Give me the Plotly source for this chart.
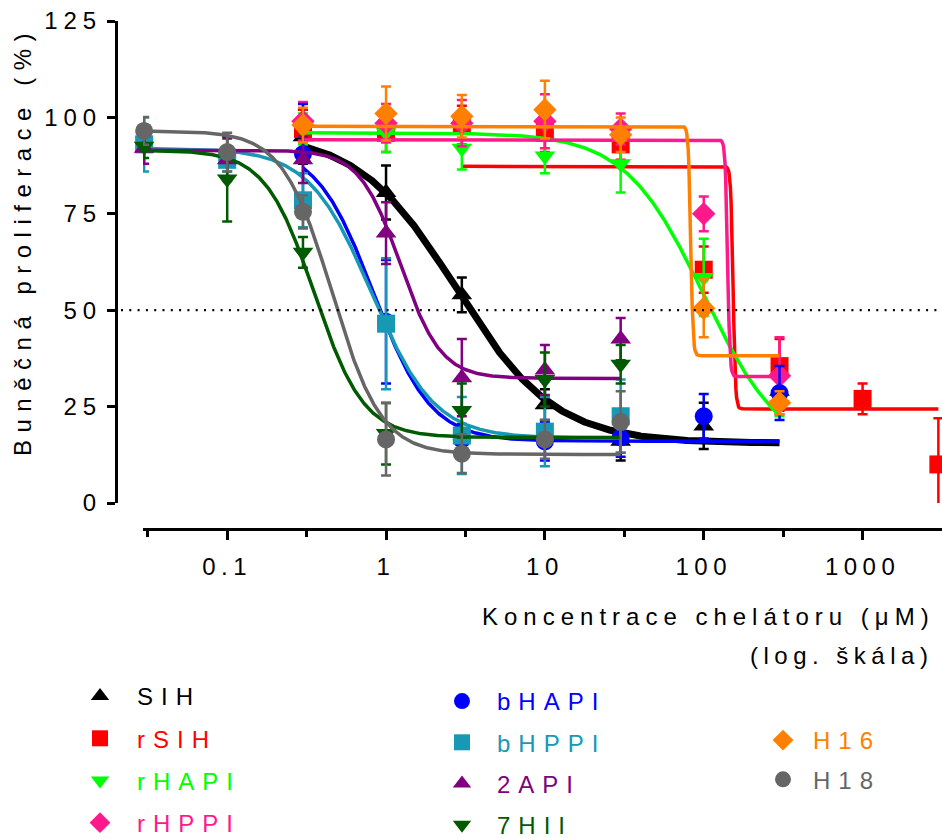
import numpy as np
import plotly.graph_objects as go

# ---------------- data ----------------
conc = [0.03, 0.1, 0.3, 1, 3, 10, 30, 100, 300, 1000, 3000]

sih_x = [0.3, 1, 3, 10, 30, 100, 300]
sih_y = [95, 80.5, 54, 25.5, 16, 20, 29]
sih_e = [7, 7, 4.5, 4, 5, 6, 5]

rsih_x = [0.3, 1, 3, 10, 30, 100, 300, 1000, 3000]
rsih_y = [97, 96, 98, 96, 93, 60.5, 35.5, 27, 10]
rsih_e = [5, 5, 5, 5, 4, 6, 7, 4, 12]

rhapi_x = [0.3, 1, 3, 10, 30, 100, 300]
rhapi_y = [97, 96, 92, 90, 88, 58.5, 25.5]
rhapi_e = [4, 5, 5.5, 4.5, 7.5, 10, 3]

rhppi_x = [0.3, 1, 3, 10, 30, 100, 300]
rhppi_y = [99, 98.5, 98.5, 99, 97, 75, 33]
rhppi_e = [5, 5, 6, 7, 4, 4.5, 10]

bhapi_x = [0.3, 1, 3, 10, 30, 100, 300]
bhapi_y = [90.5, 47, 16.5, 16, 17, 22.5, 28.5]
bhapi_e = [13, 16, 4, 5, 5, 5.8, 7]

bhppi_x = [0.03, 0.1, 0.3, 1, 3, 10, 30]
bhppi_y = [93, 89, 78.5, 46.5, 17.5, 18.5, 22.5]
bhppi_e = [7, 3, 7, 17, 10, 9, 9.5]

api2_x = [0.03, 0.1, 0.3, 1, 3, 10, 30]
api2_y = [92, 89, 89, 70, 32.5, 34.5, 42.5]
api2_e = [4, 5.5, 6, 8, 10, 6.5, 5.5]

hii7_x = [0.03, 0.1, 0.3, 1, 3, 10, 30]
hii7_y = [92.5, 84, 65, 18, 24, 32, 36]
hii7_e = [3, 11, 4, 8, 7, 7, 5]

h16_x = [0.3, 1, 3, 10, 30, 100, 300]
h16_y = [98, 101, 100.3, 102, 95.5, 50.5, 26]
h16_e = [4.5, 7, 5.5, 7.5, 4.5, 7.5, 3]

h18_x = [0.03, 0.1, 0.3, 1, 3, 10, 30]
h18_y = [96.5, 91, 75.5, 16.5, 12.8, 16.5, 21]
h18_e = [3.6, 5, 4.3, 9.4, 5, 5, 8]

# fitted dose-response curves: top, bottom, logIC50, hill slope, x-from, x-to
fit_sih = [96, 15.5, 0.44, 1.4, 0.3, 300]
fit_rsih = [87.3, 24.4, 2.185, 60, 3, 3000]
fit_rhapi = [96, 12, 2.0, 1.75, 0.3, 300]
fit_rhppi = [94.2, 32.8, 2.15, 60, 0.3, 300]
fit_bhapi = [93, 16, -0.079, 2.4, 0.3, 300]
fit_bhppi = [92, 16.8, -0.09, 2.2, 0.03, 30]
fit_api2 = [91.5, 32.3, 0.09, 3.4, 0.03, 30]
fit_hii7 = [91.5, 17, -0.45, 2.8, 0.03, 30]
fit_h16 = [97.7, 38.2, 1.918, 60, 0.3, 300]
fit_h18 = [96.5, 12.6, -0.34, 2.8, 0.03, 30]

y_ticks = [0, 25, 50, 75, 100, 125]
x_ticks = [0.1, 1, 10, 100, 1000]
x_ticklabels = ["0.1", "1", "10", "100", "1000"]
x_minor_ticks = [0.0316, 0.316, 3.16, 31.6, 316]

names = ["SIH", "rSIH", "rHAPI", "rHPPI", "bHAPI", "bHPPI", "2API", "7HII", "H16", "H18"]
colors = ["#000000", "#FF0000", "#00FF00", "#FF1A8C", "#0000FF", "#1798B5",
          "#800080", "#005A00", "#FF8000", "#666666"]
symbols = ["triangle-up", "square", "triangle-down", "diamond", "circle", "square",
           "triangle-up", "triangle-down", "diamond", "circle"]
legend_of = ["legend", "legend", "legend", "legend", "legend2", "legend2",
             "legend2", "legend2", "legend3", "legend3"]

series = [
    (sih_x, sih_y, sih_e, fit_sih),
    (rsih_x, rsih_y, rsih_e, fit_rsih),
    (rhapi_x, rhapi_y, rhapi_e, fit_rhapi),
    (rhppi_x, rhppi_y, rhppi_e, fit_rhppi),
    (bhapi_x, bhapi_y, bhapi_e, fit_bhapi),
    (bhppi_x, bhppi_y, bhppi_e, fit_bhppi),
    (api2_x, api2_y, api2_e, fit_api2),
    (hii7_x, hii7_y, hii7_e, fit_hii7),
    (h16_x, h16_y, h16_e, fit_h16),
    (h18_x, h18_y, h18_e, fit_h18),
]


def fit_curve(p, n=700):
    top, bottom, logc, hill, x0, x1 = p
    lx = np.linspace(np.log10(x0), np.log10(x1), n)
    y = bottom + (top - bottom) / (1 + 10 ** ((lx - logc) * hill))
    return 10 ** lx, y


def spaced(text, px, color=None):
    style = "letter-spacing:%spx" % px
    if color:
        style = "color:%s;" % color + style
    return '<span style="%s">%s</span>' % (style, text)


FONT = "Liberation Sans, Arial, sans-serif"
FS = 24
W, H = 942, 839

fig = go.Figure()

for i, (xs, ys, es, p) in enumerate(series):
    cx, cy = fit_curve(p)
    fig.add_trace(go.Scatter(
        x=cx, y=cy, mode="lines", showlegend=False, hoverinfo="skip",
        line=dict(color=colors[i], width=7 if i == 0 else 3.5),
        cliponaxis=False,
    ))
    fig.add_trace(go.Scatter(
        x=xs, y=ys, mode="markers", showlegend=False, name=names[i],
        marker=dict(symbol=symbols[i], size=18, color=colors[i], line=dict(width=0)),
        error_y=dict(type="data", array=es, visible=True, color=colors[i],
                     thickness=2.5, width=5),
        cliponaxis=False,
    ))

# legend entries
for i in range(len(names)):
    fig.add_trace(go.Scatter(
        x=[None], y=[None], mode="markers",
        name=spaced(names[i], 8, colors[i]),
        marker=dict(symbol=symbols[i], size=16, color=colors[i], line=dict(width=0)),
        legend=legend_of[i], legendgroup=names[i], showlegend=True,
    ))

# 50 % reference line
fig.add_shape(type="line", xref="paper", yref="y", x0=121 / W, x1=1.0, y0=50, y1=50,
              line=dict(color="black", width=2.2, dash="2px,6.3px"))

legend_common = dict(
    bgcolor="rgba(0,0,0,0)", borderwidth=0, font=dict(family=FONT, size=FS, color="black"),
    xanchor="left", yanchor="top", itemsizing="trace",
)

tickfont = dict(family=FONT, size=FS, color="black")

fig.update_layout(
    width=W, height=H,
    margin=dict(l=0, r=0, t=0, b=0, autoexpand=False),
    paper_bgcolor="white", plot_bgcolor="white",
    font=dict(family=FONT, size=FS, color="black"),
    xaxis=dict(
        type="log", range=[-1.53, 3.5], domain=[143 / W, 1.0],
        anchor="free", position=1 - 529 / H,
        showline=True, linewidth=3, linecolor="black", showgrid=False, zeroline=False,
        tickmode="array", tickvals=x_ticks,
        ticktext=[spaced(t, 5.5) for t in x_ticklabels],
        ticks="outside", ticklen=9, tickwidth=3, tickcolor="black",
        ticklabelstandoff=6, tickfont=tickfont,
        minor=dict(tickmode="array", tickvals=x_minor_ticks,
                   ticks="outside", ticklen=6, tickwidth=3, tickcolor="black", showgrid=False),
        automargin=False,
    ),
    yaxis=dict(
        range=[0, 125], domain=[1 - 503 / H, 1 - 21 / H],
        anchor="free", position=116 / W,
        showline=True, linewidth=3, linecolor="black", showgrid=False, zeroline=False,
        tickmode="array", tickvals=y_ticks,
        ticktext=[spaced(str(v), 6) for v in y_ticks],
        ticks="outside", ticklen=8, tickwidth=3, tickcolor="black",
        tickfont=tickfont, automargin=False,
    ),
    legend=dict(x=63 / W, y=1 - 674 / H, tracegroupgap=8, itemwidth=64, **legend_common),
    legend2=dict(x=427 / W, y=1 - 679 / H, tracegroupgap=7, itemwidth=60, **legend_common),
    legend3=dict(x=753 / W, y=1 - 718 / H, tracegroupgap=5, itemwidth=50, **legend_common),
    annotations=[
        dict(text=spaced("Buněčná proliferace (%)", 7.5), xref="paper", yref="paper",
             x=22 / W, y=1 - 241 / H, xanchor="center", yanchor="middle",
             textangle=-90, showarrow=False, font=dict(family=FONT, size=FS, color="black")),
        dict(text=spaced("Koncentrace chelátoru (μM)", 6.0), xref="paper", yref="paper",
             x=937 / W, y=1 - 616 / H, xanchor="right", yanchor="middle", align="right",
             showarrow=False, font=dict(family=FONT, size=FS, color="black")),
        dict(text=spaced("(log. škála)", 5.5), xref="paper", yref="paper",
             x=935 / W, y=1 - 655 / H, xanchor="right", yanchor="middle", align="right",
             showarrow=False, font=dict(family=FONT, size=FS, color="black")),
    ],
)

fig.write_html("out.html")
